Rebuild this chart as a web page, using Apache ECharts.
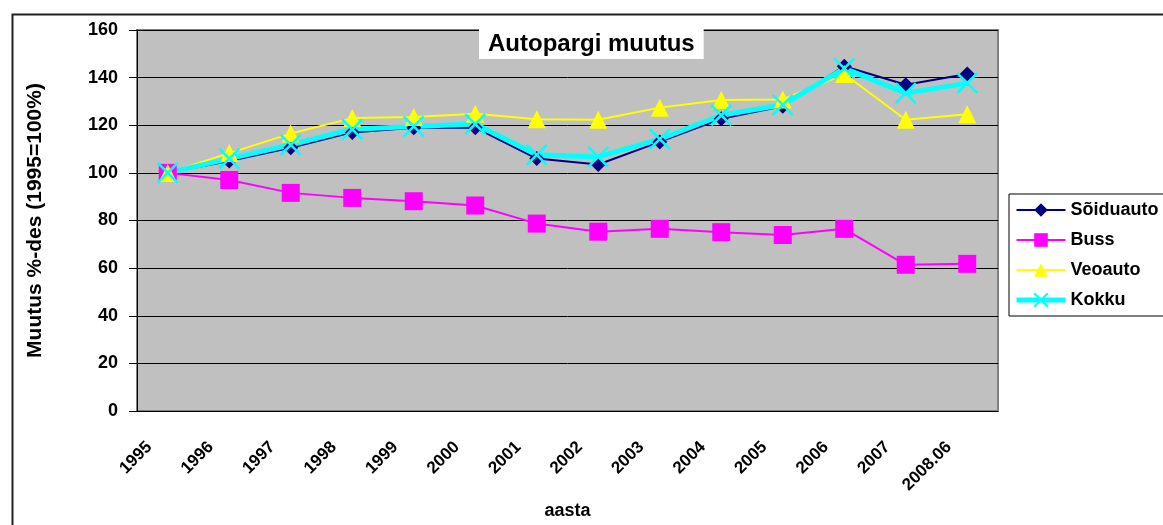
<!DOCTYPE html>
<html>
<head>
<meta charset="utf-8">
<style>
    html, body {margin: 0; padding: 0; background: #FFFFFF;}
    #chart {width: 1163px; height: 525px;}
</style>
<script src="https://cdn.jsdelivr.net/npm/echarts@6/dist/echarts.min.js"></script>
</head>
<body>
<div id="chart"></div>
<script>
    // aastad (x-telg)
    var years = ['1995', '1996', '1997', '1998', '1999', '2000', '2001',
        '2002', '2003', '2004', '2005', '2006', '2007', '2008.06'];

    // muutus %-des, 1995 = 100
    var soiduauto = [100, 105, 110.5, 117, 119, 119, 106, 103.5, 113, 122.7, 128, 144.8, 137, 141.5];
    var buss = [100, 97, 91.6, 89.5, 88.1, 86.3, 78.7, 75.3, 76.5, 75.1, 73.9, 76.5, 61.4, 61.8];
    var veoauto = [100, 108.3, 116.5, 123, 123.5, 124.8, 122.5, 122.3, 127.4, 130.6, 130.8, 141.5, 122.3, 124.6];
    var kokku = [100, 106, 111.8, 118.3, 119.5, 120.5, 107.6, 106.7, 114.2, 124.2, 128.6, 143.9, 133.5, 137.7];

    var yTicks = {min: 0, max: 160, interval: 20};

    var font = 'Liberation Sans, Arial, sans-serif';

    var chart = echarts.init(document.getElementById('chart'));

    var option = {
        backgroundColor: '#FFFFFF',
        animation: false,
        title: {
            text: 'Autopargi muutus',
            left: 479,
            top: 29,
            padding: [3, 9, 3, 9],
            backgroundColor: '#FFFFFF',
            textStyle: {color: '#000000', fontFamily: font, fontWeight: 'bold', fontSize: 24}
        },
        graphic: [{
            type: 'rect',
            left: 10,
            top: 12,
            z: -10,
            shape: {width: 1300, height: 700},
            style: {fill: 'none', stroke: '#222222', lineWidth: 2}
        }],
        legend: {
            orient: 'vertical',
            left: 1009,
            top: 194,
            padding: [7, 60, 7, 5],
            itemWidth: 49,
            itemHeight: 17,
            itemGap: 12,
            borderColor: '#000000',
            borderWidth: 1,
            backgroundColor: '#FFFFFF',
            textStyle: {color: '#000000', fontFamily: font, fontWeight: 'bold', fontSize: 18},
            data: [
                {name: 'Sõiduauto', lineStyle: {width: 2}},
                {name: 'Buss', lineStyle: {width: 2}},
                {name: 'Veoauto', lineStyle: {width: 2}},
                {name: 'Kokku', lineStyle: {width: 5}}
            ]
        },
        grid: {
            left: 137,
            top: 30,
            right: 165,
            bottom: 113,
            show: true,
            backgroundColor: '#C0C0C0',
            borderColor: '#808080',
            borderWidth: 2
        },
        xAxis: {
            type: 'category',
            data: years,
            boundaryGap: true,
            name: 'aasta',
            nameLocation: 'middle',
            nameGap: 91,
            nameTextStyle: {color: '#000000', fontFamily: font, fontWeight: 'bold', fontSize: 18},
            axisLine: {lineStyle: {color: '#000000', width: 1}},
            axisTick: {length: 7, lineStyle: {color: '#000000'}},
            axisLabel: {
                interval: 0,
                rotate: 45,
                margin: 15,
                padding: [0, 26, 0, 0],
                color: '#000000',
                fontFamily: font,
                fontWeight: 'bold',
                fontSize: 17
            },
            splitLine: {show: false}
        },
        yAxis: {
            type: 'value',
            min: yTicks.min,
            max: yTicks.max,
            interval: yTicks.interval,
            name: 'Muutus %-des (1995=100%)',
            nameLocation: 'middle',
            nameGap: 91,
            nameTextStyle: {color: '#000000', fontFamily: font, fontWeight: 'bold', fontSize: 21},
            axisLine: {show: true, lineStyle: {color: '#000000', width: 1}},
            axisTick: {show: true, length: 8, lineStyle: {color: '#000000'}},
            axisLabel: {
                margin: 19,
                color: '#000000',
                fontFamily: font,
                fontWeight: 'bold',
                fontSize: 18
            },
            splitLine: {lineStyle: {color: '#000000', width: 1}}
        },
        series: [{
            name: 'Sõiduauto',
            type: 'line',
            data: soiduauto,
            symbol: 'diamond',
            symbolSize: 15,
            color: '#000080',
            lineStyle: {width: 2, color: '#000080'},
            itemStyle: {color: '#000080'}
        }, {
            name: 'Buss',
            type: 'line',
            data: buss,
            symbol: 'rect',
            symbolSize: 18,
            color: '#FF00FF',
            lineStyle: {width: 2, color: '#FF00FF'},
            itemStyle: {color: '#FF00FF'}
        }, {
            name: 'Veoauto',
            type: 'line',
            data: veoauto,
            symbol: 'triangle',
            symbolSize: 18,
            color: '#FFFF00',
            lineStyle: {width: 2, color: '#FFFF00'},
            itemStyle: {color: '#FFFF00'}
        }, {
            name: 'Kokku',
            type: 'line',
            data: kokku,
            symbol: 'path://M0,0L10,10M10,0L0,10',
            symbolSize: 20,
            color: '#00FFFF',
            lineStyle: {width: 5, color: '#00FFFF'},
            itemStyle: {color: '#00FFFF', borderColor: '#00FFFF', borderWidth: 2.5}
        }]
    };

    chart.setOption(option);
</script>
</body>
</html>
